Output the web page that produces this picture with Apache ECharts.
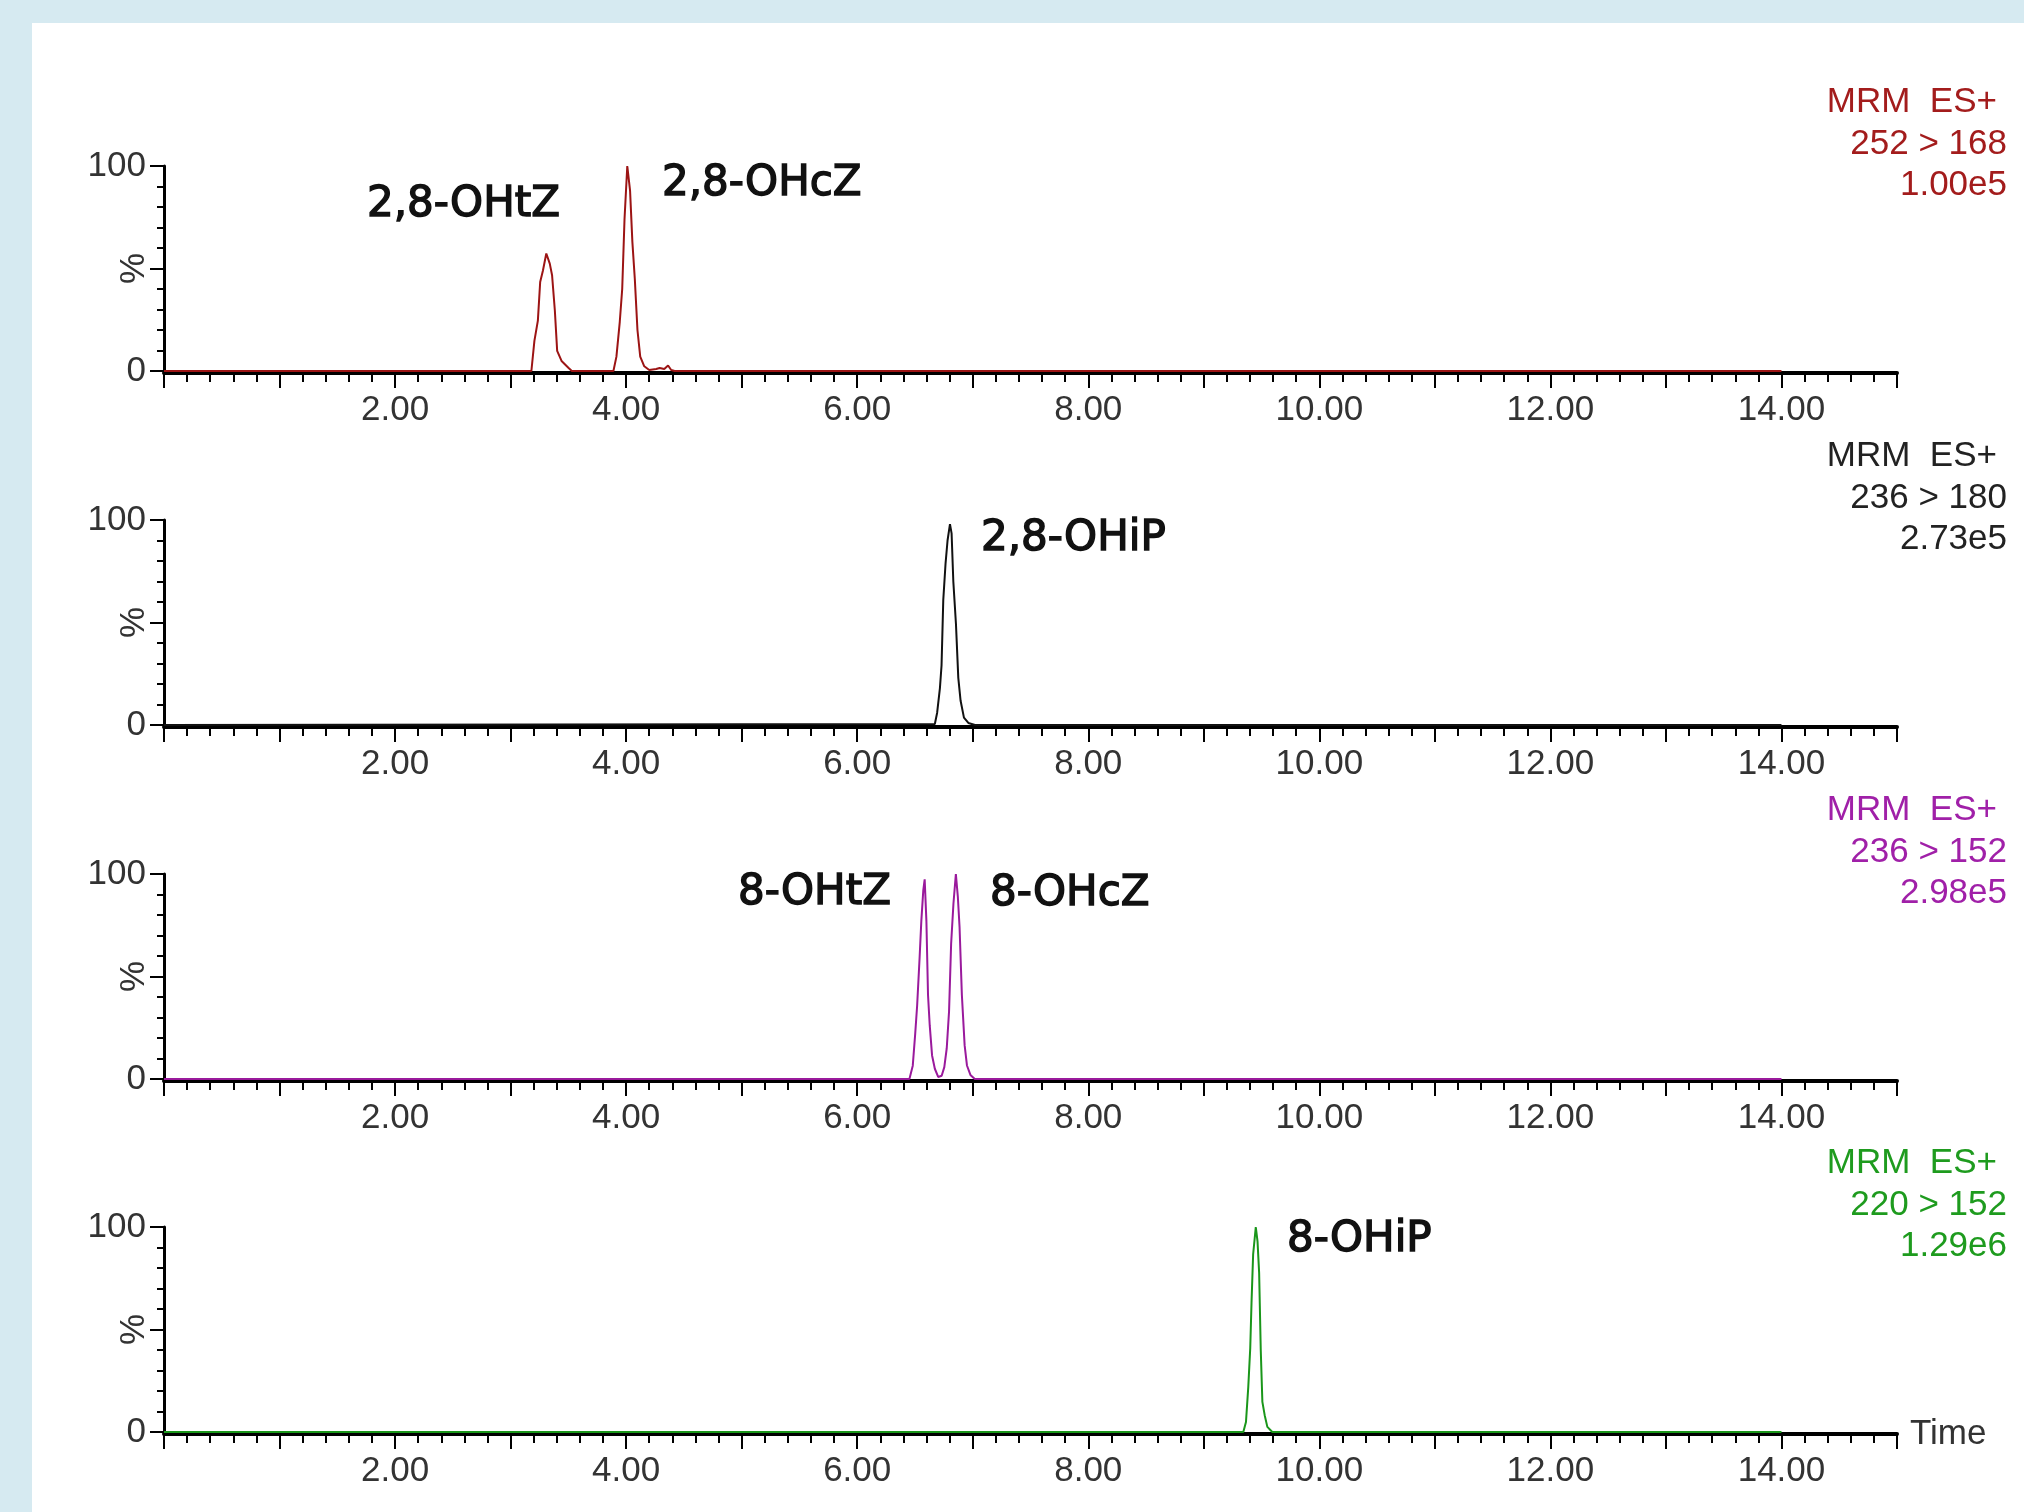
<!DOCTYPE html>
<html>
<head>
<meta charset="utf-8">
<script src="https://cdn.jsdelivr.net/npm/echarts/dist/echarts.min.js"></script>
<style>
html,body{margin:0;padding:0;background:#d6eaf1;width:2024px;height:1512px;overflow:hidden}
#white{position:absolute;left:32px;top:23px;right:0;bottom:0;background:#fff}
#chart{position:absolute;left:0;top:0;width:2024px;height:1512px}
</style>
</head>
<body>
<div id="white"></div>
<div id="chart"></div>
<script>
// ---- data: [retention time (min), relative intensity (%)] ----
const trace252_168 = [
  [0.00,0],[3.18,0],[3.206,14.7],[3.236,24.6],[3.256,43.4],[3.28,49],[3.309,57.3],[3.339,52.4],
  [3.359,46.7],[3.383,29.5],[3.403,9.8],[3.441,4.9],[3.50,1.6],[3.53,0],
  [3.89,0],[3.916,7],[3.945,24],[3.966,40],[3.986,74],[4.01,100],[4.034,88],[4.054,63],
  [4.075,45],[4.098,20],[4.122,7],[4.157,2.3],[4.20,0.5],[4.26,1],[4.29,1.5],[4.33,1],
  [4.363,2.7],[4.39,0.5],[4.42,0],[14.00,0]
];
const trace236_180 = [
  [0.00,0],[6.672,0.5],[6.692,6],[6.716,18],[6.730,29],[6.745,61],[6.765,79],[6.782,90],
  [6.803,98],[6.817,93.5],[6.832,70],[6.855,49],[6.875,23],[6.895,11.8],[6.924,3.6],
  [6.962,1],[7.02,0],[14.00,0]
];
const trace236_152 = [
  [0.00,0],[6.452,0],[6.481,6.5],[6.502,22],[6.519,36],[6.540,59],[6.555,77],[6.572,92],
  [6.584,97.4],[6.599,77],[6.613,41],[6.628,26],[6.648,11.5],[6.672,5],[6.701,1],
  [6.731,1.6],[6.754,5.8],[6.775,15],[6.795,33],[6.813,66],[6.833,85.5],[6.854,100],
  [6.871,89],[6.886,74],[6.906,41],[6.930,16.4],[6.950,6.6],[6.980,2],[7.018,0],[14.00,0]
];
const trace220_152 = [
  [0.00,0],[9.342,0],[9.365,4.9],[9.385,22],[9.402,41],[9.413,63],[9.427,86.6],[9.450,100],
  [9.465,93],[9.479,77.6],[9.493,40],[9.507,14.7],[9.527,8.2],[9.550,2.5],[9.593,0],[14.00,0]
];
const traces = [trace252_168, trace236_180, trace236_152, trace220_152];
const channelLines = [
  ['MRM  ES+', '252 > 168', '1.00e5'],
  ['MRM  ES+', '236 > 180', '2.73e5'],
  ['MRM  ES+', '236 > 152', '2.98e5'],
  ['MRM  ES+', '220 > 152', '1.29e6']
];
const peakLabels = [
  ['2,8-OHtZ', '2,8-OHcZ'],
  ['2,8-OHiP'],
  ['8-OHtZ', '8-OHcZ'],
  ['8-OHiP']
];
const xTickLabels = ['2.00','4.00','6.00','8.00','10.00','12.00','14.00'];
const yTickLabels = ['0','100'];

// ---- styling / layout ----
const colors = ['#9c1414', '#111111', '#9a1a9c', '#1a961a'];
const textColors = ['#a31c1c', '#222222', '#a020a8', '#1e9b1e'];
const tops = [166, 520, 874, 1227];
const gridH = 205;
const labelFont = 'Liberation Sans, Arial, sans-serif';
const peakPos = [
  [[367, 205], [662, 184]],
  [[981, 539]],
  [[738, 893], [990, 894]],
  [[1287, 1240]]
];

const grids = [], xAxes = [], yAxes = [], series = [], elements = [];
for (let i = 0; i < 4; i++) {
  grids.push({left: 164, width: 1733, top: tops[i], height: gridH, containLabel: false});
  xAxes.push({
    gridIndex: i, type: 'value', min: 0, max: 15, interval: 1, offset: 2,
    axisLine: {show: true, onZero: false, lineStyle: {color: '#000', width: 4}},
    axisTick: {show: true, length: 15, lineStyle: {color: '#000', width: 2}},
    minorTick: {show: true, splitNumber: 5, length: 9, lineStyle: {color: '#000', width: 2}},
    splitLine: {show: false}, minorSplitLine: {show: false},
    axisLabel: {
      margin: 20, color: '#333', fontSize: 35, fontFamily: labelFont,
      formatter: v => { const s = v.toFixed(2); return xTickLabels.indexOf(s) >= 0 ? s : ''; }
    },
    name: i === 3 ? 'Time' : '', nameLocation: 'end', nameGap: 13,
    nameTextStyle: {color: '#333', fontSize: 35, fontFamily: labelFont, verticalAlign: 'middle'}
  });
  yAxes.push({
    gridIndex: i, type: 'value', min: 0, max: 100, interval: 50,
    axisLine: {show: true, lineStyle: {color: '#000', width: 3}},
    axisTick: {show: true, length: 14, lineStyle: {color: '#000', width: 2}},
    minorTick: {show: true, splitNumber: 5, length: 7, lineStyle: {color: '#000', width: 2}},
    splitLine: {show: false}, minorSplitLine: {show: false},
    axisLabel: {
      margin: 18, color: '#333', fontSize: 35, fontFamily: labelFont,
      formatter: v => yTickLabels.indexOf(String(v)) >= 0 ? String(v) : ''
    },
    name: '%', nameLocation: 'middle', nameRotate: 90, nameGap: 12, nameMoveOverlap: false,
    nameTextStyle: {color: '#333', fontSize: 35, fontFamily: labelFont}
  });
  series.push({
    type: 'line', xAxisIndex: i, yAxisIndex: i, data: traces[i],
    showSymbol: false, symbol: 'none', smooth: false,
    lineStyle: {color: colors[i], width: 2}, z: 5
  });
  const lineYs = [tops[i] - 64, tops[i] - 22, tops[i] + 19];
  channelLines[i].forEach((t, k) => {
    elements.push({
      type: 'text', x: k === 0 ? 1997 : 2007, y: lineYs[k], z: 10,
      style: {text: t, fill: textColors[i], fontSize: 35, fontFamily: labelFont,
        align: 'right', verticalAlign: 'middle', textAlign: 'right', textVerticalAlign: 'middle'}
    });
  });
  peakLabels[i].forEach((t, k) => {
    elements.push({
      type: 'text', x: peakPos[i][k][0], y: peakPos[i][k][1], z: 10,
      style: {text: t, fill: '#111', stroke: '#111', lineWidth: 1.4, fontSize: 42,
        fontFamily: 'DejaVu Sans, sans-serif',
        align: 'left', verticalAlign: 'middle', textAlign: 'left', textVerticalAlign: 'middle'}
    });
  });
}

const chart = echarts.init(document.getElementById('chart'), null, {renderer: 'canvas'});
chart.setOption({
  backgroundColor: 'transparent',
  animation: false,
  grid: grids, xAxis: xAxes, yAxis: yAxes, series: series,
  graphic: {elements: elements}
});
</script>
</body>
</html>
